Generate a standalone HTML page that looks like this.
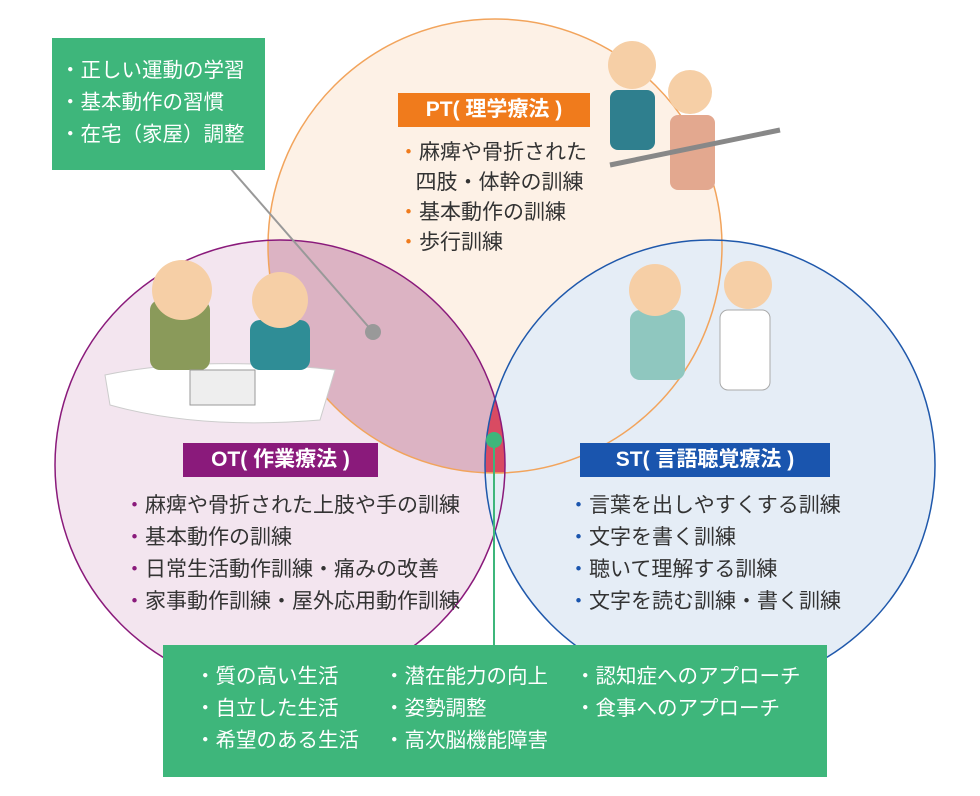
<!DOCTYPE html>
<html><head><meta charset="utf-8"><style>
body{margin:0;width:980px;height:796px;background:#fff;overflow:hidden;position:relative;font-family:"Liberation Sans","Noto Sans CJK JP",sans-serif}
svg{position:absolute;left:0;top:0}
.t{position:absolute;color:#333;font-size:21px;line-height:32px;white-space:nowrap}
.g{color:#fff;font-size:20.5px}
.box{position:absolute;background:#3eb67b;color:#fff}
.lab{position:absolute;color:#fff;font-size:21px;font-weight:bold;text-align:center;line-height:34px;height:34px}
</style></head><body>
<svg width="980" height="796">
<defs>
<clipPath id="pt"><circle cx="495" cy="246" r="227"/></clipPath>
<clipPath id="ot"><circle cx="280" cy="465" r="225"/></clipPath>
</defs>
<circle cx="495" cy="246" r="227" fill="#fdf1e6"/>
<circle cx="280" cy="465" r="225" fill="#f3e5ef"/>
<circle cx="710" cy="465" r="225" fill="#e5edf6"/>
<g clip-path="url(#pt)"><circle cx="280" cy="465" r="225" fill="#dcb3c3"/></g>
<g clip-path="url(#pt)"><g clip-path="url(#ot)"><circle cx="710" cy="465" r="225" fill="#d94b62"/></g></g>
<circle cx="495" cy="246" r="227" fill="none" stroke="#f2a45c" stroke-width="1.5"/>
<circle cx="280" cy="465" r="225" fill="none" stroke="#8a1a7b" stroke-width="1.5"/>
<circle cx="710" cy="465" r="225" fill="none" stroke="#1f58ab" stroke-width="1.5"/>
<line x1="230" y1="168" x2="373" y2="332" stroke="#999" stroke-width="2"/>
<circle cx="373" cy="332" r="8" fill="#999"/>
<line x1="494" y1="440" x2="494" y2="648" stroke="#3eb67b" stroke-width="2"/>
<circle cx="494" cy="440" r="8" fill="#3eb67b"/>
<path d="M105 375 Q200 355 335 370 L320 420 Q200 430 110 405Z" fill="#fff" stroke="#ccc"/>
<rect x="150" y="300" width="60" height="70" rx="10" fill="#8a9a5a"/>
<circle cx="182" cy="290" r="30" fill="#f6cfa6"/>
<rect x="250" y="320" width="60" height="50" rx="10" fill="#2f8d96"/>
<circle cx="280" cy="300" r="28" fill="#f6cfa6"/>
<rect x="190" y="370" width="65" height="35" fill="#eee" stroke="#999"/>
<rect x="610" y="90" width="45" height="60" rx="8" fill="#2f7f8e"/>
<circle cx="632" cy="65" r="24" fill="#f6cfa6"/>
<rect x="670" y="115" width="45" height="75" rx="8" fill="#e3a88f"/>
<circle cx="690" cy="92" r="22" fill="#f6cfa6"/>
<line x1="610" y1="165" x2="780" y2="130" stroke="#888" stroke-width="5"/>
<rect x="630" y="310" width="55" height="70" rx="10" fill="#8fc7bf"/>
<circle cx="655" cy="290" r="26" fill="#f6cfa6"/>
<rect x="720" y="310" width="50" height="80" rx="8" fill="#fff" stroke="#aaa"/>
<circle cx="748" cy="285" r="24" fill="#f6cfa6"/>
</svg>
<div class="box" style="left:52px;top:38px;width:213px;height:132px"></div>
<div class="t g" style="left:60px;top:55px">・正しい運動の学習<br>・基本動作の習慣<br>・在宅（家屋）調整</div>
<div class="lab" style="left:398px;top:93px;width:192px;background:#f07b1c">PT( 理学療法 )</div>
<div class="t" style="left:398px;top:138px;line-height:30px"><span style="color:#f07b1c">・</span>麻痺や骨折された<br>&nbsp;&nbsp;&nbsp;四肢・体幹の訓練<br><span style="color:#f07b1c">・</span>基本動作の訓練<br><span style="color:#f07b1c">・</span>歩行訓練</div>
<div class="lab" style="left:183px;top:443px;width:195px;background:#8a1a7b">OT( 作業療法 )</div>
<div class="t" style="left:124px;top:490px"><span style="color:#8a1a7b">・</span>麻痺や骨折された上肢や手の訓練<br><span style="color:#8a1a7b">・</span>基本動作の訓練<br><span style="color:#8a1a7b">・</span>日常生活動作訓練・痛みの改善<br><span style="color:#8a1a7b">・</span>家事動作訓練・屋外応用動作訓練</div>
<div class="lab" style="left:580px;top:443px;width:250px;background:#1a55ae">ST( 言語聴覚療法 )</div>
<div class="t" style="left:568px;top:490px"><span style="color:#1a55ae">・</span>言葉を出しやすくする訓練<br><span style="color:#1a55ae">・</span>文字を書く訓練<br><span style="color:#1a55ae">・</span>聴いて理解する訓練<br><span style="color:#1a55ae">・</span>文字を読む訓練・書く訓練</div>
<div class="box" style="left:163px;top:645px;width:664px;height:132px"></div>
<div class="t g" style="left:195px;top:661px">・質の高い生活<br>・自立した生活<br>・希望のある生活</div>
<div class="t g" style="left:384px;top:661px">・潜在能力の向上<br>・姿勢調整<br>・高次脳機能障害</div>
<div class="t g" style="left:575px;top:661px">・認知症へのアプローチ<br>・食事へのアプローチ</div>
</body></html>
